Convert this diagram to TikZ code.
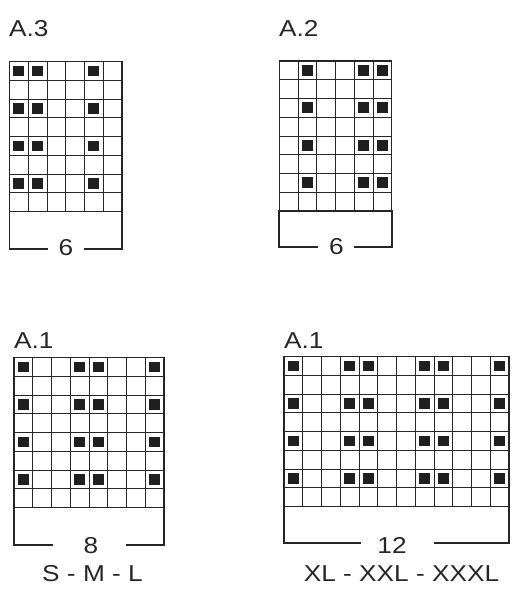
\documentclass[tikz,border=0pt]{standalone}
\usepackage{fontspec}
\newfontfamily\labfont[FakeStretch=1.14]{Liberation Sans}
\begin{document}
\begin{tikzpicture}[x=1pt,y=-1pt,
  cellline/.style={line width=1pt, color=black!85},
  outerline/.style={line width=1.3pt, color=black!85},
  brk/.style={line width=1.7pt, color=black!85, line cap=rect},
  dot/.style={fill=black!88},
  lab/.style={font=\labfont\fontsize{23}{27}\selectfont, inner sep=0pt, text=black!85}]
\useasboundingbox (0,0) rectangle (521,600);
\def\c{18.75}
\def\s{10.8}
\def\m{3.975}
% chart macro: #1 x0, #2 y0, #3 ncols, #4 filled cols list, #5 bracket bottom (rel), #6 left seg end, #7 right seg start
\newcommand\chartgrid[7]{%
  \begin{scope}[shift={(#1,#2)}]
    \pgfmathsetmacro\W{#3*\c}
    \pgfmathtruncatemacro\nm{#3-1}
    \foreach \i in {1,...,\nm} \draw[cellline] (\i*\c,0) -- (\i*\c,8*\c);
    \foreach \j in {1,...,7} \draw[cellline] (0,\j*\c) -- (\W,\j*\c);
    \draw[outerline] (0,0) rectangle (\W,8*\c);
    \foreach \r in {0,2,4,6}
      \foreach \k in {#4}
        \fill[dot] (\k*\c+\m,\r*\c+\m) rectangle ++(\s,\s);
    \draw[brk] (0,8*\c) -- (0,#5) -- (#6,#5);
    \draw[brk] (#7,#5) -- (\W,#5) -- (\W,8*\c);
  \end{scope}}
% A.3
\node[lab, anchor=base west] (tA3) at (9,36) {A.3};
\chartgrid{9.5}{61.7}{6}{0,1,4}{187.6}{37.2}{75.5}
\node[lab] (n6a) at (66,248) {6};
% A.2
\node[lab, anchor=base west] (tA2) at (279,36) {A.2};
\chartgrid{279.3}{61}{6}{1,4,5}{186}{37.4}{75.7}
\node[lab] (n6b) at (336.5,247) {6};
% A.1 small
\node[lab, anchor=base west] (tA1s) at (14,348) {A.1};
\chartgrid{14}{357.7}{8}{0,3,4,7}{187.3}{37.7}{112.7}
\node[lab, anchor=base] (n8) at (91,553.5) {8};
\node[lab, anchor=base] (sml) at (92.5,581) {S - M - L};
% A.1 large
\node[lab, anchor=base west] (tA1l) at (284,348) {A.1};
\chartgrid{284}{356.7}{12}{0,3,4,7,8,11}{186.6}{76}{151}
\node[lab, anchor=base] (n12) at (392,553.5) {12};
\node[lab, anchor=base] (xl) at (401.5,581) {XL - XXL - XXXL};
\end{tikzpicture}
\end{document}
